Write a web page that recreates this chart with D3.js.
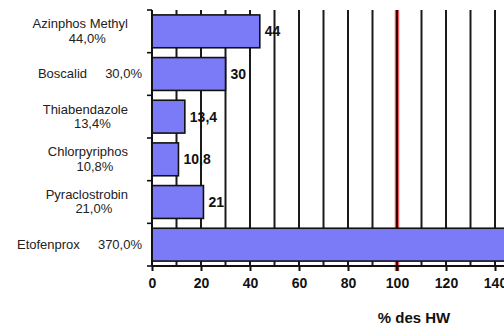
<!DOCTYPE html>
<html>
<head>
<meta charset="utf-8">
<script src="https://cdn.jsdelivr.net/npm/d3@7"></script>
<style>
  html, body { margin: 0; padding: 0; background: #fff; }
  svg { display: block; }
</style>
</head>
<body>
<svg id="chart" width="504" height="325"></svg>
<script>
// ---- data ----
const categories = ["Azinphos Methyl", "Boscalid", "Thiabendazole", "Chlorpyriphos", "Pyraclostrobin", "Etofenprox"];
const percentLabels = ["44,0%", "30,0%", "13,4%", "10,8%", "21,0%", "370,0%"];
const values = [44, 30, 13.4, 10.8, 21, 370];
const xTickValues = [0, 20, 40, 60, 80, 100, 120, 140];
const gridValues = [10, 20, 30, 40, 50, 60, 70, 80, 90, 110, 120, 130, 140, 150];
const limitValue = 100;
const axisTitle = "% des HW";

// ---- layout ----
const W = 504;
const svg = d3.select("#chart");
const font = "'Liberation Sans', Arial, Helvetica, sans-serif";
const plot = { left: 152, top: 10, bottom: 266 };

const x = d3.scaleLinear().domain([0, 150]).range([plot.left, plot.left + 150 * 2.45]);
const y = d3.scaleBand().domain(categories).range([plot.top, plot.bottom]).paddingInner(0.23).paddingOuter(0.115);

// gridlines
svg.append("g").selectAll("line").data(gridValues).join("line")
  .attr("x1", d => x(d)).attr("x2", d => x(d))
  .attr("y1", plot.top).attr("y2", plot.bottom)
  .attr("stroke", "#1a1a1a").attr("stroke-width", 2);

// limit line at 100
const lim = svg.append("g");
lim.append("line").attr("x1", x(limitValue)).attr("x2", x(limitValue))
  .attr("y1", plot.top).attr("y2", plot.bottom + 5)
  .attr("stroke", "#e85a5a").attr("stroke-width", 4.5);
lim.append("line").attr("x1", x(limitValue)).attr("x2", x(limitValue))
  .attr("y1", plot.top).attr("y2", plot.bottom + 5)
  .attr("stroke", "#3a0000").attr("stroke-width", 2);

// bars
svg.append("g").selectAll("rect").data(values).join("rect")
  .attr("x", x(0))
  .attr("y", (d, i) => y(categories[i]))
  .attr("width", d => x(d) - x(0))
  .attr("height", y.bandwidth())
  .attr("fill", "#7b7bf8")
  .attr("stroke", "#111")
  .attr("stroke-width", 1.6);

// value labels (only those that fall inside the visible area)
const fmt = v => d3.format(".3~g")(v).replace(".", ",");
const visible = values.map((v, i) => ({ v, i })).filter(d => x(d.v) + 30 < W);
svg.append("g").selectAll("text").data(visible).join("text")
  .attr("x", d => x(d.v) + 5)
  .attr("y", d => y(categories[d.i]) + y.bandwidth() / 2 + 5)
  .attr("font-family", font).attr("font-weight", "bold").attr("font-size", 14)
  .attr("fill", "#111")
  .text(d => fmt(d.v));

// bottom axis
const xAxis = d3.axisBottom(x).tickValues(xTickValues).tickSize(5).tickPadding(7).tickFormat(d3.format("d"));
const gx = svg.append("g").attr("transform", `translate(0,${plot.bottom})`).call(xAxis);
gx.select(".domain").attr("stroke", "#111").attr("stroke-width", 2).attr("d", `M${x(0)},0H${x(150)}`);
gx.selectAll(".tick line").attr("stroke", "#111").attr("stroke-width", 2);
gx.selectAll(".tick text").attr("font-family", font).attr("font-weight", "bold").attr("font-size", 14).attr("fill", "#111");

// left axis
const yBounds = categories.map(c => y(c) - y.step() * y.paddingInner() / 2).concat([plot.bottom]);
const gy = svg.append("g");
gy.append("line").attr("x1", x(0)).attr("x2", x(0)).attr("y1", plot.top).attr("y2", plot.bottom)
  .attr("stroke", "#111").attr("stroke-width", 2);
gy.selectAll("line.t").data(yBounds).join("line").attr("class", "t")
  .attr("x1", x(0) - 5).attr("x2", x(0)).attr("y1", d => d).attr("y2", d => d)
  .attr("stroke", "#111").attr("stroke-width", 1.6);

// category labels
const labG = svg.append("g").attr("font-family", font).attr("font-size", 13).attr("fill", "#222");
categories.forEach((c, i) => {
  const cy = y(c) + y.bandwidth() / 2;
  const probe = labG.append("text").text(c + "\u00a0\u00a0\u00a0\u00a0\u00a0" + percentLabels[i]);
  const w = probe.node().getComputedTextLength();
  if (w <= 128) {
    probe.attr("x", 142).attr("y", cy + 4.4).attr("text-anchor", "end");
  } else {
    probe.remove();
    const t1 = labG.append("text").attr("x", 128).attr("y", cy - 3).attr("text-anchor", "end").text(c);
    const w1 = t1.node().getComputedTextLength();
    labG.append("text").attr("x", 128 - w1 / 2 + 7).attr("y", cy + 11.4).attr("text-anchor", "middle").text(percentLabels[i]);
  }
});

// axis title
svg.append("text").attr("x", 414).attr("y", 322.5).attr("text-anchor", "middle")
  .attr("font-family", font).attr("font-weight", "bold").attr("font-size", 15).attr("fill", "#111")
  .text(axisTitle);
</script>
</body>
</html>
